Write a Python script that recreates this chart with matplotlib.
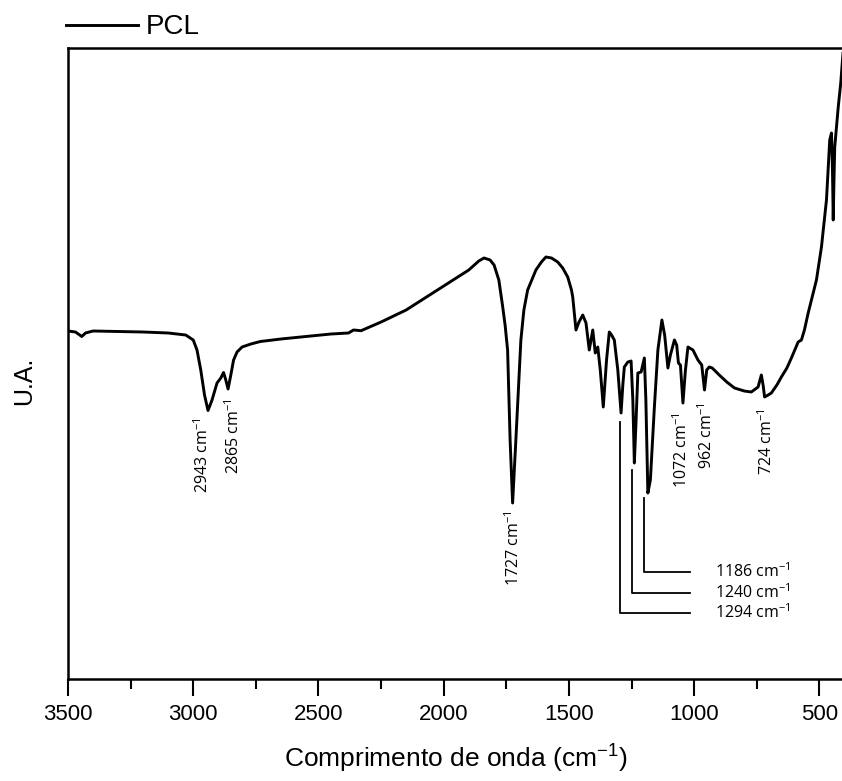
import numpy as np
import matplotlib
matplotlib.use("Agg")
import matplotlib.pyplot as plt

plt.rcParams['font.family'] = ['Liberation Sans', 'DejaVu Sans']
plt.rcParams['mathtext.default'] = 'regular'

# espectro FTIR do PCL (numero de onda, intensidade em u.a.)
wavenumber = [3500, 3470, 3445, 3430, 3400, 3300, 3200, 3100, 3030, 3000,
              2985, 2970, 2955, 2941, 2925, 2905, 2890, 2879, 2870, 2861,
              2850, 2839, 2825, 2805, 2770, 2732, 2650, 2550, 2450, 2380,
              2360, 2330, 2250, 2150, 2012, 1950, 1900, 1860, 1839, 1815,
              1799, 1780, 1765, 1755, 1745, 1735, 1725, 1718, 1712, 1700,
              1692, 1680, 1665, 1632, 1610, 1592, 1570, 1545, 1525, 1505,
              1490, 1485, 1478, 1472, 1460, 1445, 1432, 1419, 1405, 1395,
              1385, 1375, 1363, 1350, 1339, 1330, 1319, 1305, 1292, 1285,
              1279, 1265, 1252, 1245, 1239, 1232, 1225, 1212, 1199, 1193,
              1185, 1175, 1159, 1145, 1129, 1118, 1105, 1095, 1079, 1070,
              1063, 1055, 1045, 1035, 1025, 1005, 985, 970, 959, 950,
              940, 928, 900, 870, 839, 800, 772, 745, 732, 725,
              719, 705, 692, 670, 652, 630, 612, 590, 585, 572,
              560, 545, 530, 512, 492, 472, 459, 452, 448, 445,
              442, 439, 425, 415, 405]
intensity = [348, 347, 342.5, 346, 348, 347.5, 347, 346, 344, 339,
             329, 309, 284, 268.5, 279, 296, 301, 306.5, 299, 290,
             304, 319, 327, 332, 335, 337.5, 340, 342.5, 345, 346,
             349, 348.3, 357, 369, 391, 401, 409, 418, 421, 419,
             414, 399, 373, 354, 329, 239, 176, 209, 239, 299,
             339, 369, 389, 409, 417, 422, 421, 417, 411, 402,
             389, 382, 364, 349, 357, 364, 356, 329, 349, 326,
             332, 309, 272, 319, 347, 344, 339, 309, 266, 294,
             312, 317, 318, 279, 216, 259, 306, 307, 321, 279,
             186, 199, 272, 329, 359, 344, 311, 324, 339, 334,
             316, 314, 276, 309, 332, 329, 319, 314, 289, 309,
             312, 311, 304, 297, 291, 288, 287, 292, 304, 294,
             282, 284, 286, 294, 302, 311, 321, 334, 337, 339,
             349, 366, 381, 399, 432, 479, 539, 546, 509, 459,
             499, 532, 572, 596, 629]

# picos marcados abaixo da curva (posicao do texto, topo do texto)
peak_labels = ['2943', '2865', '1727', '1072', '962', '724']
peak_x = [2961, 2839, 1719, 1049, 952, 712]
peak_top = [262, 281, 169, 267, 277, 271]

# picos com linha de chamada
lead_labels = ['1186', '1240', '1294']
lead_x = [1199, 1248, 1296]
lead_start = [181, 209, 257]
lead_y = [107, 86, 66]
lead_end = 1016
lead_text_x = 916

fig = plt.figure(figsize=(8.42, 7.81), dpi=100)
ax = fig.add_axes([68 / 842, 102 / 781, 776 / 842, 631 / 781])

ax.plot(wavenumber, intensity, color='black', lw=2.1, label='PCL')

for lab, x, y in zip(peak_labels, peak_x, peak_top):
    ax.text(x, y, lab + ' cm$^{-1}$', rotation=90, ha='center', va='top',
            fontsize=11.5, family=['Open Sans', 'DejaVu Sans'])

for lab, x, y0, y1 in zip(lead_labels, lead_x, lead_start, lead_y):
    ax.plot([x, x, lead_end], [y0, y1, y1], color='black', lw=1.3)
    ax.text(lead_text_x, y1, lab + ' cm$^{-1}$', ha='left', va='center',
            fontsize=11.5, family=['Open Sans', 'DejaVu Sans'])

ax.set_xlim(3500, 402)
ax.set_ylim(0, 631)
ax.set_xticks([3500, 3000, 2500, 2000, 1500, 1000, 500])
ax.set_xticks(np.arange(3250, 400, -500), minor=True)
ax.tick_params(axis='x', which='major', direction='out', length=12, width=1.5,
               labelsize=16, pad=6)
ax.tick_params(axis='x', which='minor', direction='out', length=7, width=1.5)
ax.set_yticks([])
for side in ['left', 'bottom', 'top']:
    ax.spines[side].set_linewidth(1.8)
ax.spines['right'].set_visible(False)

ax.set_xlabel('Comprimento de onda (cm$^{-1}$)', fontsize=19, labelpad=13)
fig.text(24 / 842, 1 - 381 / 781, 'U.A.', rotation=90, ha='center', va='center',
         fontsize=18)

ax.legend(loc='lower left', bbox_to_anchor=(-0.003, 1.012), frameon=False,
          fontsize=20, handlelength=2.6, handletextpad=0.3, borderpad=0,
          borderaxespad=0)

fig.savefig('out.png', dpi=100)
